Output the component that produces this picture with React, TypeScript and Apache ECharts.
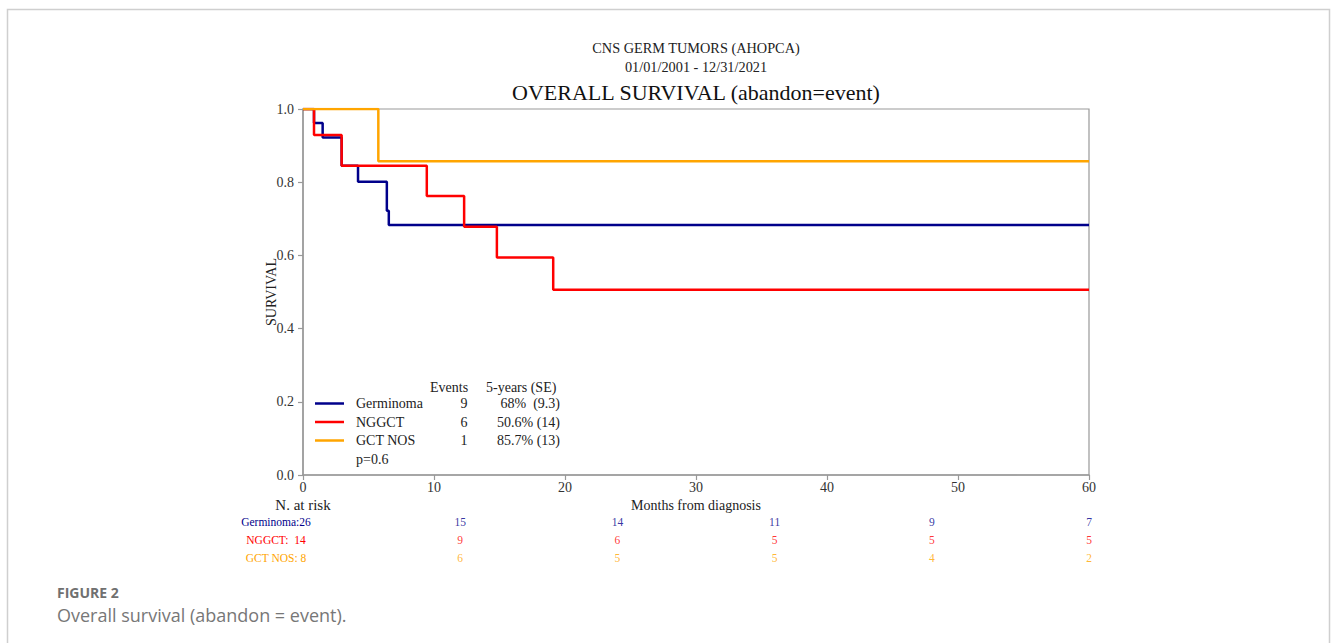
import React, { useEffect, useRef } from "react";
import * as echarts from "echarts";

// ---- data ----
const germinomaTimes = [0, 0.84, 1.5, 2.95, 4.2, 6.4, 6.55, 60];
const germinomaSurv = [1, 0.962, 0.922, 0.845, 0.801, 0.722, 0.683, 0.683];
const nggctTimes = [0, 0.84, 2.95, 9.45, 12.3, 14.8, 19.1, 60];
const nggctSurv = [1, 0.929, 0.845, 0.762, 0.678, 0.594, 0.506, 0.506];
const gctTimes = [0, 5.75, 60];
const gctSurv = [1, 0.857, 0.857];

const groupNames = ["Germinoma", "NGGCT", "GCT NOS"];
const groupColors = ["#00008B", "#FF0000", "#FFA500"];
const legendEvents = ["9", "6", "1"];
const legendFiveYear = ["68%  (9.3)", "50.6% (14)", "85.7% (13)"];
const pValue = "p=0.6";

const riskLabels = ["Germinoma:26", "NGGCT:  14", "GCT NOS: 8"];
const riskMonths = [12, 24, 36, 48, 60];
const riskGerminoma = [15, 14, 11, 9, 7];
const riskNGGCT = [9, 6, 5, 5, 5];
const riskGCT = [6, 5, 5, 4, 2];

const xTicks = [0, 10, 20, 30, 40, 50, 60];
const yTicks = [0, 0.2, 0.4, 0.6, 0.8, 1.0];

const SERIF = '"Liberation Serif", "Times New Roman", serif';
const SANS = '"Open Sans", "Noto Sans", sans-serif';

export default function App() {
  const ref = useRef<HTMLDivElement>(null);
  useEffect(() => {
    if (!ref.current) return;
    const chart = echarts.init(ref.current, undefined, { renderer: "svg" });
    const zip = (t: number[], s: number[]) => t.map((v, i) => [v, s[i]]);
    const curves = [
      zip(germinomaTimes, germinomaSurv),
      zip(nggctTimes, nggctSurv),
      zip(gctTimes, gctSurv),
    ];
    const risks = [riskGerminoma, riskNGGCT, riskGCT];

    const lineSeries = curves.map((d, i) => ({
      type: "line",
      name: groupNames[i],
      xAxisIndex: 0,
      yAxisIndex: 0,
      step: "end",
      data: d,
      showSymbol: false,
      symbol: "none",
      lineStyle: { color: groupColors[i], width: 2.5 },
      z: 3 + i,
    }));

    const riskSeries = risks.map((r, i) => ({
      type: "scatter",
      xAxisIndex: 1,
      yAxisIndex: 1,
      symbolSize: 1,
      itemStyle: { color: "rgba(0,0,0,0)" },
      data: r.map((v, j) => [riskMonths[j], groupNames[i], v]),
      label: {
        show: true,
        position: "inside",
        formatter: (p: any) => String(p.value[2]),
        color: groupColors[i],
        fontFamily: SERIF,
        fontSize: 11.5,
      },
    }));

    const graphic: any[] = [
      {
        type: "rect",
        shape: { x: 7.5, y: 9.5, width: 1322, height: 700 },
        style: { fill: "none", stroke: "#cfcfcf", lineWidth: 1.5 },
        silent: true,
      },
      {
        type: "text",
        x: 696,
        y: 48,
        style: { text: "CNS GERM TUMORS (AHOPCA)", align: "center", verticalAlign: "middle", font: `14.3px ${SERIF}`, fill: "#222" },
      },
      {
        type: "text",
        x: 696,
        y: 67,
        style: { text: "01/01/2001 - 12/31/2021", align: "center", verticalAlign: "middle", font: `14.3px ${SERIF}`, fill: "#222" },
      },
      {
        type: "text",
        x: 696,
        y: 92,
        style: { text: "OVERALL SURVIVAL (abandon=event)", align: "center", verticalAlign: "middle", font: `22px ${SERIF}`, fill: "#111" },
      },
      {
        type: "text",
        x: 271,
        y: 292,
        rotation: Math.PI / 2,
        style: { text: "SURVIVAL", align: "center", verticalAlign: "middle", font: `14px ${SERIF}`, fill: "#222" },
      },
      {
        type: "text",
        x: 303,
        y: 505,
        style: { text: "N. at risk", align: "center", verticalAlign: "middle", font: `15px ${SERIF}`, fill: "#222" },
      },
      {
        type: "text",
        x: 696,
        y: 505,
        style: { text: "Months from diagnosis", align: "center", verticalAlign: "middle", font: `14px ${SERIF}`, fill: "#222" },
      },
      {
        type: "text",
        x: 430,
        y: 387,
        style: { text: "Events", align: "left", verticalAlign: "middle", font: `14px ${SERIF}`, fill: "#222" },
      },
      {
        type: "text",
        x: 486,
        y: 387,
        style: { text: "5-years (SE)", align: "left", verticalAlign: "middle", font: `14px ${SERIF}`, fill: "#222" },
      },
      {
        type: "text",
        x: 356,
        y: 459,
        style: { text: pValue, align: "left", verticalAlign: "middle", font: `14px ${SERIF}`, fill: "#222" },
      },
      {
        type: "text",
        x: 57,
        y: 592,
        style: { text: "FIGURE 2", align: "left", verticalAlign: "middle", font: `bold 14px ${SANS}`, fill: "#707070" },
      },
      {
        type: "text",
        x: 57,
        y: 615,
        style: { text: "Overall survival (abandon = event).", align: "left", verticalAlign: "middle", font: `18px ${SANS}`, fill: "#777" },
      },
    ];

    const rowY = [403.5, 422, 440.5];
    groupNames.forEach((n, i) => {
      graphic.push({
        type: "line",
        shape: { x1: 315, y1: rowY[i], x2: 344, y2: rowY[i] },
        style: { stroke: groupColors[i], lineWidth: 2.5 },
      });
      graphic.push({
        type: "text",
        x: 356,
        y: rowY[i],
        style: { text: n, align: "left", verticalAlign: "middle", font: `14px ${SERIF}`, fill: "#222" },
      });
      graphic.push({
        type: "text",
        x: 464,
        y: rowY[i],
        style: { text: legendEvents[i], align: "center", verticalAlign: "middle", font: `14px ${SERIF}`, fill: "#222" },
      });
      graphic.push({
        type: "text",
        x: 560,
        y: rowY[i],
        style: { text: legendFiveYear[i], align: "right", verticalAlign: "middle", font: `14px ${SERIF}`, fill: "#222" },
      });
    });

    const riskRowY = [522, 540, 558];
    riskLabels.forEach((l, i) => {
      graphic.push({
        type: "text",
        x: 276,
        y: riskRowY[i],
        style: { text: l, align: "center", verticalAlign: "middle", font: `11.5px ${SERIF}`, fill: groupColors[i] },
      });
    });

    chart.setOption({
      animation: false,
      backgroundColor: "#fff",
      grid: [
        { left: 303, right: 242, top: 109, bottom: 168, show: true, borderColor: "#999", borderWidth: 1.2, containLabel: false },
        { left: 303, right: 242, top: 513, height: 54, show: false, containLabel: false },
      ],
      xAxis: [
        {
          type: "value",
          gridIndex: 0,
          min: 0,
          max: 60,
          interval: 10,
          axisLine: { show: true, onZero: false, lineStyle: { color: "#999", width: 1.5 } },
          axisTick: { show: true, length: 5, inside: false, lineStyle: { color: "#999", width: 1.2 } },
          axisLabel: { margin: 5, fontFamily: SERIF, fontSize: 14, color: "#333", formatter: (v: number) => (xTicks.includes(v) ? String(v) : "") },
          splitLine: { show: false },
        },
        { type: "value", gridIndex: 1, min: 0, max: 60, show: false },
      ],
      yAxis: [
        {
          type: "value",
          gridIndex: 0,
          min: 0,
          max: 1,
          interval: 0.2,
          axisLine: { show: true, lineStyle: { color: "#999", width: 1.5 } },
          axisTick: { show: true, length: 5, inside: false, lineStyle: { color: "#999", width: 1.2 } },
          axisLabel: {
            margin: 9,
            fontFamily: SERIF,
            fontSize: 14,
            color: "#333",
            formatter: (v: number) => {
              const t = yTicks.find((y) => Math.abs(y - v) < 1e-6);
              return t === undefined ? "" : t.toFixed(1);
            },
          },
          splitLine: { show: false },
        },
        { type: "category", gridIndex: 1, data: groupNames, inverse: true, show: false },
      ],
      series: [...lineSeries, ...riskSeries],
      graphic,
    });
    return () => chart.dispose();
  }, []);
  return (
    <div
      ref={ref}
      style={{ position: "absolute", left: 0, top: 0, width: 1331, height: 643, background: "#fff" }}
    />
  );
}
